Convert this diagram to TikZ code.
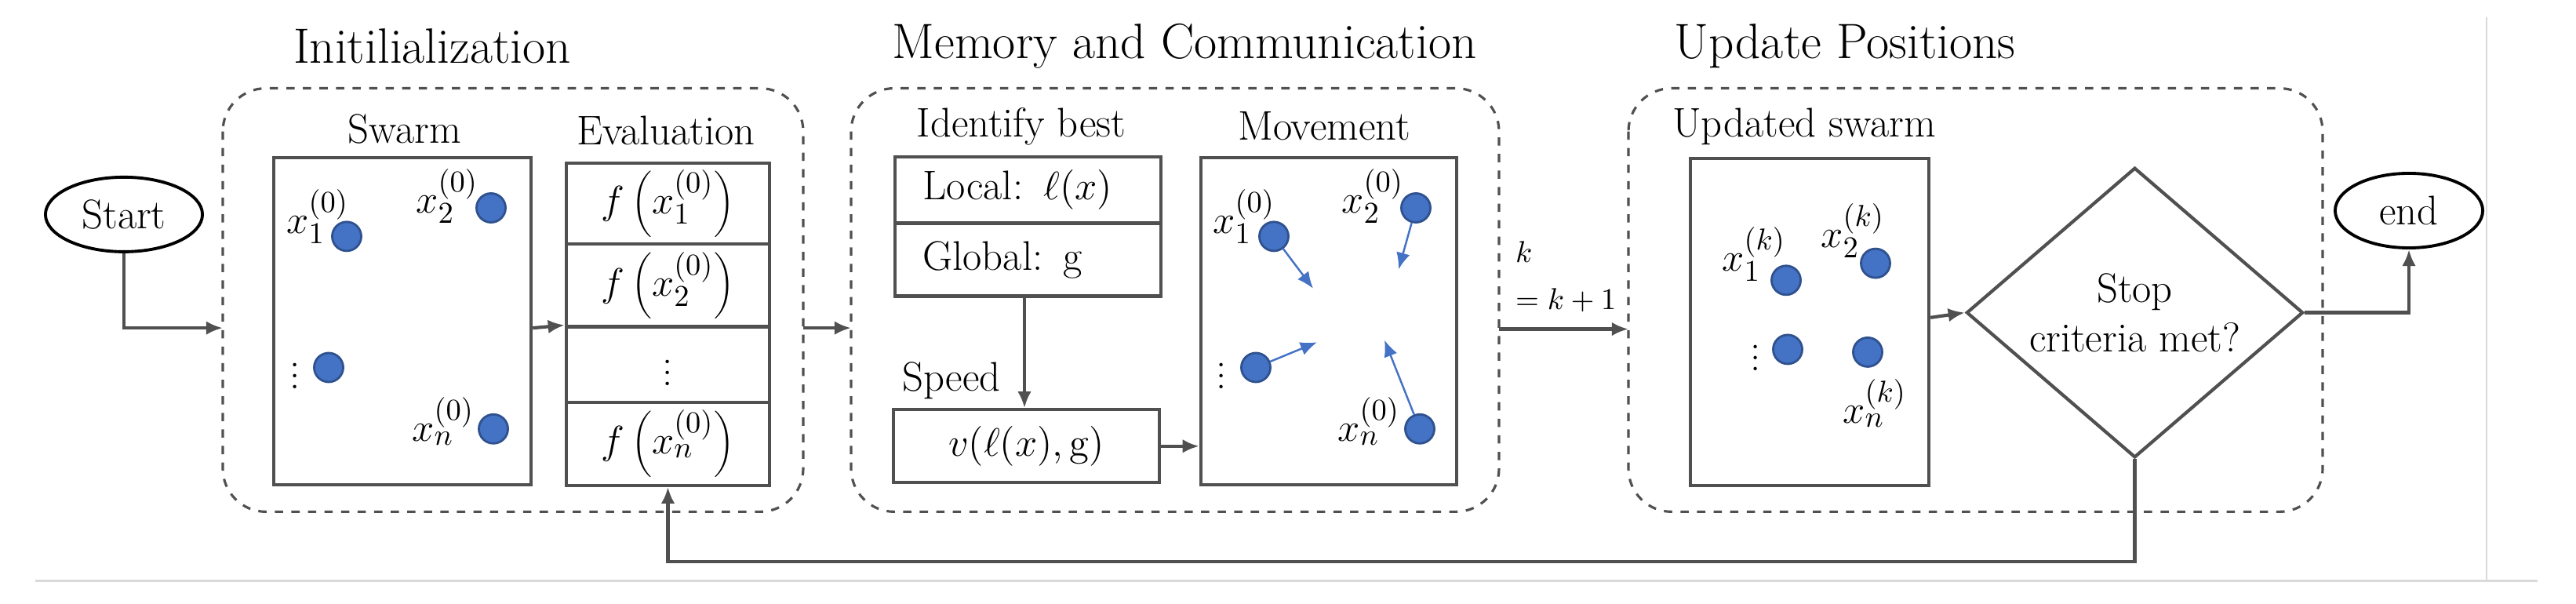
\documentclass[tikz,border=0pt]{standalone}
\usetikzlibrary{shapes.geometric,arrows.meta}
\definecolor{pt}{HTML}{4472C4}
\definecolor{ptd}{HTML}{2F528F}
\definecolor{ln}{HTML}{505050}
\begin{document}
\begin{tikzpicture}[x=0.01cm,y=-0.00699cm,
  title/.style={font=\fontsize{18}{22}\selectfont},
  sub/.style={font=\fontsize{15}{18}\selectfont},
  lbl/.style={font=\fontsize{15}{18}\selectfont,inner sep=0pt},
  grp/.style={draw=ln,dashed,line width=0.9pt,rounded corners=0.55cm},
  box/.style={draw=ln,line width=1.2pt,inner sep=0pt,font=\fontsize{15}{18}\selectfont},
  pt/.style={ellipse,fill=pt,draw=ptd,line width=0.8pt,minimum width=0.37cm,minimum height=0.37cm,inner sep=0pt},
  arr/.style={draw=ln,line width=1.2pt,-{Latex[length=6pt,width=5pt]}},
  mv/.style={draw=pt,line width=0.7pt,-{Latex[length=6pt,width=5pt]}},
  term/.style={ellipse,draw=black,line width=1.1pt,font=\fontsize{15}{18}\selectfont,inner sep=0pt}]
\useasboundingbox (0,0) rectangle (3284,1100);
\draw[gray!30,line width=0.8pt] (45,1059) -- (3235,1059);
\draw[gray!30,line width=0.8pt] (3170,32) -- (3170,1059);
% titles
\node[title] (t1) at (551,84) {Initilialization};
\node[title] (t2) at (1510,84) {Memory and Communication};
\node[title] (t3) at (2352,84) {Update Positions};
% groups
\draw[grp] (284,161) rectangle (1024,933);
\draw[grp] (1085,161) rectangle (1911,933);
\draw[grp] (2076,161) rectangle (2961,933);
\coordinate (g1w) at (284,598);
\coordinate (g1e) at (1024,598);
\coordinate (g2w) at (1085,598);
\coordinate (g2e) at (1911,600);
\coordinate (g3w) at (2076,600);
% start
\node[term,minimum width=2.0cm,minimum height=0.95cm] (start) at (158,391) {Start};
\draw[arr] (start.south) |- (g1w);
% swarm
\node[sub] (swl) at (516,235) {Swarm};
\node[box,minimum width=3.28cm,minimum height=4.17cm] (sw) at (513,586) {};
\node[pt] (p1) at (442,431) {}; \node[lbl] (l1) at (405,395) {$x_1^{(0)}$};
\node[pt] (p2) at (626,379) {}; \node[lbl] (l2) at (570,358) {$x_2^{(0)}$};
\node[pt] (p3) at (419,670) {}; \node[lbl] (l3) at (376,670) {$\vdots$};
\node[pt] (p4) at (629,782) {}; \node[lbl] (l4) at (565,768) {$x_n^{(0)}$};
% evaluation
\node[sub] (evl) at (849,238) {Evaluation};
\node[box,minimum width=2.59cm,minimum height=1.03cm] (e1) at (851.5,371.5) {$f\left(x_1^{(0)}\right)$};
\node[box,minimum width=2.59cm,minimum height=1.06cm] (e2) at (851.5,520.5) {$f\left(x_2^{(0)}\right)$};
\node[box,minimum width=2.59cm,minimum height=0.96cm] (e3) at (851.5,664.5) {$\vdots$};
\node[box,minimum width=2.59cm,minimum height=1.06cm] (e4) at (851.5,809) {$f\left(x_n^{(0)}\right)$};
\draw[arr] (sw.east |- 0,598) -- (e3.north west);
\draw[arr] (g1e) -- (g2w);
% memory
\node[sub] (idl) at (1302,231) {Identify best};
\node[box,minimum width=3.39cm,minimum height=0.85cm,anchor=west,text width=3.39cm] (loc) at (1139,346.5) {\hspace*{10pt}Local: $\ell(x)$};
\node[box,minimum width=3.39cm,minimum height=0.93cm,anchor=west,text width=3.39cm] (glo) at (1139,473.5) {\hspace*{10pt}Global: g};
\node[sub] (spl) at (1213,694) {Speed};
\node[box,minimum width=3.39cm,minimum height=0.93cm] (spd) at (1308.5,813.5) {$v(\ell(x),\mathrm{g})$};
\draw[arr] (glo.south -| 1306,0) -- (spd.north -| 1306,0);
\node[sub] (mvl) at (1688,230) {Movement};
\node[box,minimum width=3.26cm,minimum height=4.17cm] (mov) at (1694,586) {};
\draw[arr] (spd.east) -- (spd.east -| mov.west);
\node[pt] (m1) at (1624,431) {}; \node[lbl] (ml1) at (1586,395) {$x_1^{(0)}$};
\node[pt] (m2) at (1805,379) {}; \node[lbl] (ml2) at (1750,358) {$x_2^{(0)}$};
\node[pt] (m3) at (1601,670) {}; \node[lbl] (ml3) at (1557,670) {$\vdots$};
\node[pt] (m4) at (1810,782) {}; \node[lbl] (ml4) at (1745,768) {$x_n^{(0)}$};
\coordinate (a1) at (1674,526); \coordinate (a2) at (1783,491);
\coordinate (a3) at (1679,624); \coordinate (a4) at (1765,620);
\draw[mv] (m1) -- (a1); \draw[mv] (m2) -- (a2);
\draw[mv] (m3) -- (a3); \draw[mv] (m4) -- (a4);
\draw[arr] (g2e) -- (g3w);
\node[font=\fontsize{11}{13}\selectfont,align=left,anchor=south west,inner sep=1pt] (kl) at (1928,575) {$k$\\[4pt]$=k+1$};
% update
\node[sub] (upl) at (2300,231) {Updated swarm};
\node[box,minimum width=3.04cm,minimum height=4.17cm] (us) at (2307,587) {};
\node[pt] (u1) at (2277,511) {}; \node[lbl] (ul1) at (2236,463) {$x_1^{(k)}$};
\node[pt] (u2) at (2391,480) {}; \node[lbl] (ul2) at (2362,421) {$x_2^{(k)}$};
\node[pt] (u3) at (2279,637) {}; \node[lbl] (ul3) at (2238,637) {$\vdots$};
\node[pt] (u4) at (2381,642) {}; \node[lbl] (ul4) at (2390,735) {$x_n^{(k)}$};
\node[diamond,draw=ln,line width=1.2pt,minimum width=4.29cm,minimum height=3.41cm,inner sep=0pt,sub,align=center] (dec) at (2721.5,570) {Stop\\criteria met?};
\draw[arr] (us.east |- 0,579) -- (dec.west);
\node[term,minimum width=1.88cm,minimum height=0.95cm] (end) at (3071,384) {end};
\draw[arr] (dec.east) -| (end.south);
\draw[arr] (dec.south) -- (2721.5,1024) -| (e4.south);
\end{tikzpicture}
\end{document}
